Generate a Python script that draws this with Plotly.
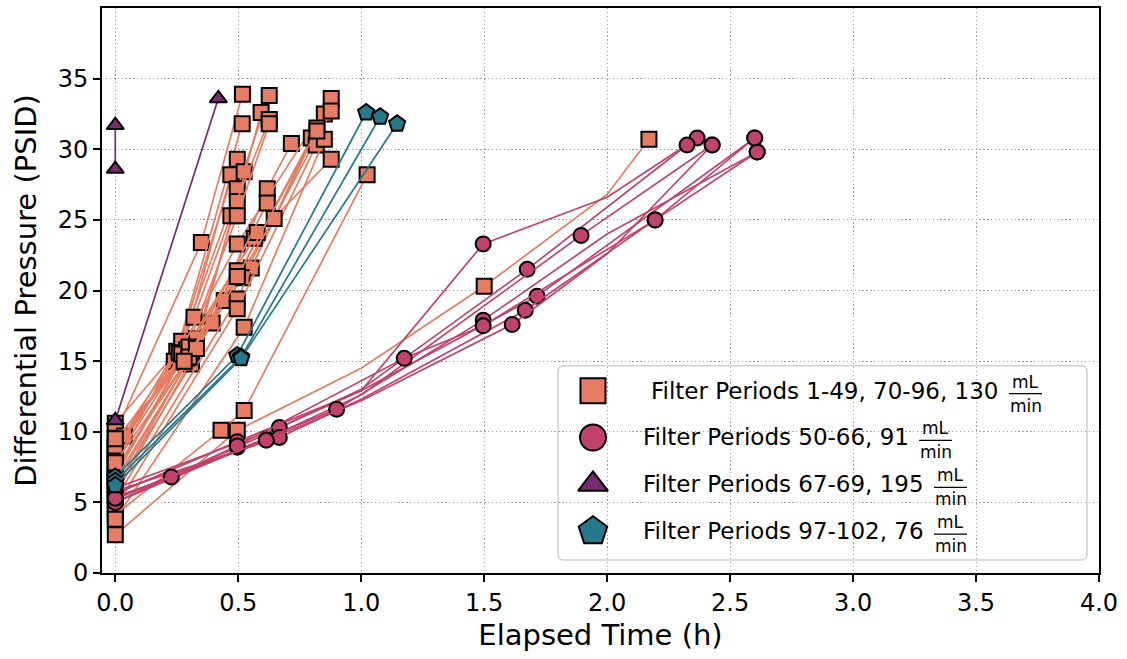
import plotly.graph_objects as go

# ---------------- data ----------------
# Filter Periods 1-49, 70-96 (130 mL/min)
orange_t = [
    [0, 0.496, 1.0, 1.5, 2.0, 2.17],
    [0, 0.43, 0.524, 1.024],
    [0, 0.35, 0.517],
    [0, 0.25, 0.516],
    [0, 0.24, 0.496],
    [0, 0.26, 0.47],
    [0, 0.31, 0.524],
    [0.037, 0.27, 0.496, 0.626],
    [0, 0.33, 0.496, 0.593],
    [0, 0.32, 0.47, 0.626],
    [0, 0.28, 0.496, 0.626],
    [0, 0.394, 0.618, 0.716],
    [0, 0.26, 0.496, 0.878],
    [0, 0.29, 0.553, 0.85],
    [0, 0.3, 0.516, 0.878],
    [0, 0.443, 0.82],
    [0, 0.496, 0.797],
    [0, 0.496, 0.817],
    [0, 0.524, 0.85],
    [0, 0.27, 0.565, 0.878],
    [0, 0.3, 0.577],
    [0, 0.3, 0.618],
    [0, 0.33, 0.646],
    [0, 0.496],
    [0, 0.28, 0.496, 0.82],
]
orange_p = [
    [2.7, 10.1, 14.5, 20.3, 26.8, 30.7],
    [4.1, 10.1, 11.5, 28.2],
    [9.9, 23.4, 33.9],
    [10.6, 15.7, 31.8],
    [8.3, 15.0, 29.3],
    [7.0, 14.9, 28.2],
    [6.0, 14.8, 28.4],
    [9.7, 16.4, 27.2, 33.8],
    [8.8, 16.6, 26.3, 32.6],
    [7.6, 18.1, 25.3, 32.1],
    [6.8, 15.4, 25.3, 31.8],
    [5.5, 17.7, 27.2, 30.4],
    [9.2, 15.6, 23.3, 33.6],
    [8.0, 15.8, 21.6, 32.5],
    [7.4, 15.2, 20.9, 32.7],
    [6.3, 19.3, 31.5],
    [5.2, 19.4, 30.8],
    [4.6, 18.7, 30.3],
    [3.8, 17.4, 30.7],
    [8.6, 15.5, 23.7, 29.3],
    [9.0, 16.0, 24.1],
    [7.8, 15.3, 26.2],
    [6.6, 15.9, 25.1],
    [5.8, 21.4],
    [9.5, 15.0, 21.0, 31.3],
]
orange_marked = [
    [1, 1, 0, 1, 0, 1],
] + [None] * 24

# Filter Periods 50-66 (91 mL/min)
pink_t = [
    [0, 0.496, 1.0, 1.496, 2.0, 2.366],
    [0, 0.496, 1.0, 1.675, 2.325],
    [0, 0.614, 1.0, 1.894, 2.427],
    [0, 0.667, 1.0, 1.715, 2.6],
    [0, 0.667, 1.0, 1.667, 2.195, 2.61],
    [0, 0.228, 0.9, 1.496, 2.0, 2.61],
    [0, 0.496, 1.175, 1.496, 2.195, 2.6],
    [0, 0.614, 1.0, 1.614, 2.0, 2.427],
]
pink_p = [
    [5.6, 9.3, 12.9, 23.3, 26.6, 30.8],
    [5.2, 8.9, 13.0, 21.5, 30.3],
    [5.0, 9.5, 12.6, 23.9, 30.3],
    [6.0, 10.3, 12.9, 19.6, 30.8],
    [5.8, 9.6, 12.3, 18.6, 25.0, 29.8],
    [5.4, 6.8, 11.6, 17.9, 24.0, 29.8],
    [5.0, 9.0, 15.2, 17.5, 25.0, 30.8],
    [5.3, 9.4, 12.2, 17.6, 22.6, 30.3],
]
pink_marked = [
    [1, 1, 0, 1, 0, 1],
    [1, 1, 0, 1, 1],
    [1, 1, 0, 1, 1],
    [1, 1, 0, 1, 1],
    [1, 1, 0, 1, 1, 1],
    [1, 1, 1, 1, 0, 1],
    [1, 1, 1, 1, 1, 1],
    [1, 1, 0, 1, 0, 1],
]

# Filter Periods 67-69 (195 mL/min)
purple_t = [[0, 0.419], [0, 0]]
purple_p = [[10.8, 33.6], [28.6, 31.7]]

# Filter Periods 97-102 (76 mL/min)
teal_t = [[0, 0.496, 1.02], [0, 0.512, 1.077], [0, 0.512, 1.146]]
teal_p = [[6.8, 15.4, 32.6], [6.5, 15.3, 32.3], [6.2, 15.2, 31.8]]

legend_labels = [
    "Filter Periods 1-49, 70-96, 130",
    "Filter Periods 50-66, 91",
    "Filter Periods 67-69, 195",
    "Filter Periods 97-102, 76",
]
unit_num, unit_den = "mL", "min"

x_ticks = [0.0, 0.5, 1.0, 1.5, 2.0, 2.5, 3.0, 3.5, 4.0]
y_ticks = [0, 5, 10, 15, 20, 25, 30, 35]

# ---------------- style ----------------
ORANGE = "#E67D63"
PINK = "#C1426B"
PURPLE = "#782A73"
TEAL = "#26788D"
FONT = "DejaVu Sans"

W, H = 1127, 659
ML, MR, MT, MB = 102, 28, 6, 86
PW, PH = W - ML - MR, H - MT - MB


def px(x):
    return (x - ML) / PW


def py(y):
    return (H - MB - y) / PH


fig = go.Figure()

groups = [
    (orange_t, orange_p, orange_marked, ORANGE, "square", 15),
    (pink_t, pink_p, pink_marked, PINK, "circle", 15),
    (purple_t, purple_p, [None] * len(purple_t), PURPLE, "triangle-up", 15),
    (teal_t, teal_p, [None] * len(teal_t), TEAL, "pentagon", 17),
]
for ts, ps, marks, color, sym, size in groups:
    for t, p, m in zip(ts, ps, marks):
        op = [1] * len(t) if m is None else m
        fig.add_trace(go.Scatter(
            x=t, y=p, mode="lines+markers",
            line=dict(color=color, width=1.7),
            marker=dict(symbol=sym, size=size, color=color, opacity=op,
                        line=dict(color="black", width=2)),
            showlegend=False, hoverinfo="skip", cliponaxis=False,
        ))

# ---------------- manual legend ----------------
box_x0, box_x1, box_y0, box_y1 = 558, 1087, 365, 560
r = 6
rx, ry = r / PW, r / PH
X0, X1, Y0, Y1 = px(box_x0), px(box_x1), py(box_y1), py(box_y0)
path = (f"M{X0+rx},{Y0} L{X1-rx},{Y0} Q{X1},{Y0} {X1},{Y0+ry} "
        f"L{X1},{Y1-ry} Q{X1},{Y1} {X1-rx},{Y1} L{X0+rx},{Y1} "
        f"Q{X0},{Y1} {X0},{Y1-ry} L{X0},{Y0+ry} Q{X0},{Y0} {X0+rx},{Y0} Z")
shapes = [dict(type="path", path=path, xref="paper", yref="paper",
               fillcolor="rgba(255,255,255,0.8)",
               line=dict(color="#d0d0d0", width=1.5), layer="between")]

row_y = [390, 437, 484, 531]
text_x = [649, 641, 641, 641]
frac_x = [(1009, 1042), (919, 952), (934, 967), (934, 967)]
leg_syms = [("square", ORANGE, 25), ("circle", PINK, 26),
            ("triangle-up", PURPLE, 26), ("pentagon", TEAL, 30)]
annotations = []
for i in range(4):
    sym, col, sz = leg_syms[i]
    fig.add_trace(go.Scatter(
        x=[px(593)], y=[py(row_y[i])], xaxis="x2", yaxis="y2",
        mode="markers", cliponaxis=False, showlegend=False, hoverinfo="skip",
        marker=dict(symbol=sym, size=sz, color=col, line=dict(color="black", width=2)),
    ))
    annotations.append(dict(
        x=px(text_x[i]), y=py(row_y[i]), xref="paper", yref="paper",
        text=legend_labels[i], showarrow=False, xanchor="left", yanchor="middle",
        font=dict(family=FONT, size=23, color="black"),
    ))
    fx0, fx1 = frac_x[i]
    ly = row_y[i] + 3
    shapes.append(dict(type="line", xref="paper", yref="paper",
                       x0=px(fx0), x1=px(fx1), y0=py(ly), y1=py(ly),
                       line=dict(color="black", width=1.3)))
    annotations.append(dict(
        x=px((fx0 + fx1) / 2), y=py(ly - 1), xref="paper", yref="paper",
        text=unit_num, showarrow=False, xanchor="center", yanchor="bottom",
        font=dict(family=FONT, size=17, color="black"),
        borderpad=0,
    ))
    annotations.append(dict(
        x=px((fx0 + fx1) / 2), y=py(ly + 1), xref="paper", yref="paper",
        text=unit_den, showarrow=False, xanchor="center", yanchor="top",
        font=dict(family=FONT, size=17, color="black"),
        borderpad=0,
    ))

axis_common = dict(
    showline=True, linecolor="black", linewidth=2, mirror=True,
    ticks="outside", ticklen=7, tickwidth=1.8, tickcolor="black",
    showgrid=True, gridcolor="#a0a0a0", gridwidth=1.1, griddash="1.3px,2.6px",
    zeroline=False, tickfont=dict(family=FONT, size=24, color="black"),
)

fig.update_layout(
    width=W, height=H,
    margin=dict(l=ML, r=MR, t=MT, b=MB),
    paper_bgcolor="white", plot_bgcolor="white",
    showlegend=False,
    xaxis=dict(range=[-0.054, 4.0], tickvals=x_ticks,
               ticktext=[f"{v:.1f}" for v in x_ticks],
               title=dict(text="Elapsed Time (h)", standoff=9,
                          font=dict(family=FONT, size=29, color="black")),
               **axis_common),
    yaxis=dict(range=[0, 40], tickvals=y_ticks,
               ticktext=[str(v) for v in y_ticks],
               title=dict(text="Differential Pressure (PSID)", standoff=13,
                          font=dict(family=FONT, size=29, color="black")),
               **axis_common),
    xaxis2=dict(overlaying="x", range=[0, 1], visible=False),
    yaxis2=dict(overlaying="y", range=[0, 1], visible=False),
    shapes=shapes,
    annotations=annotations,
)

fig.write_html("out.html")
